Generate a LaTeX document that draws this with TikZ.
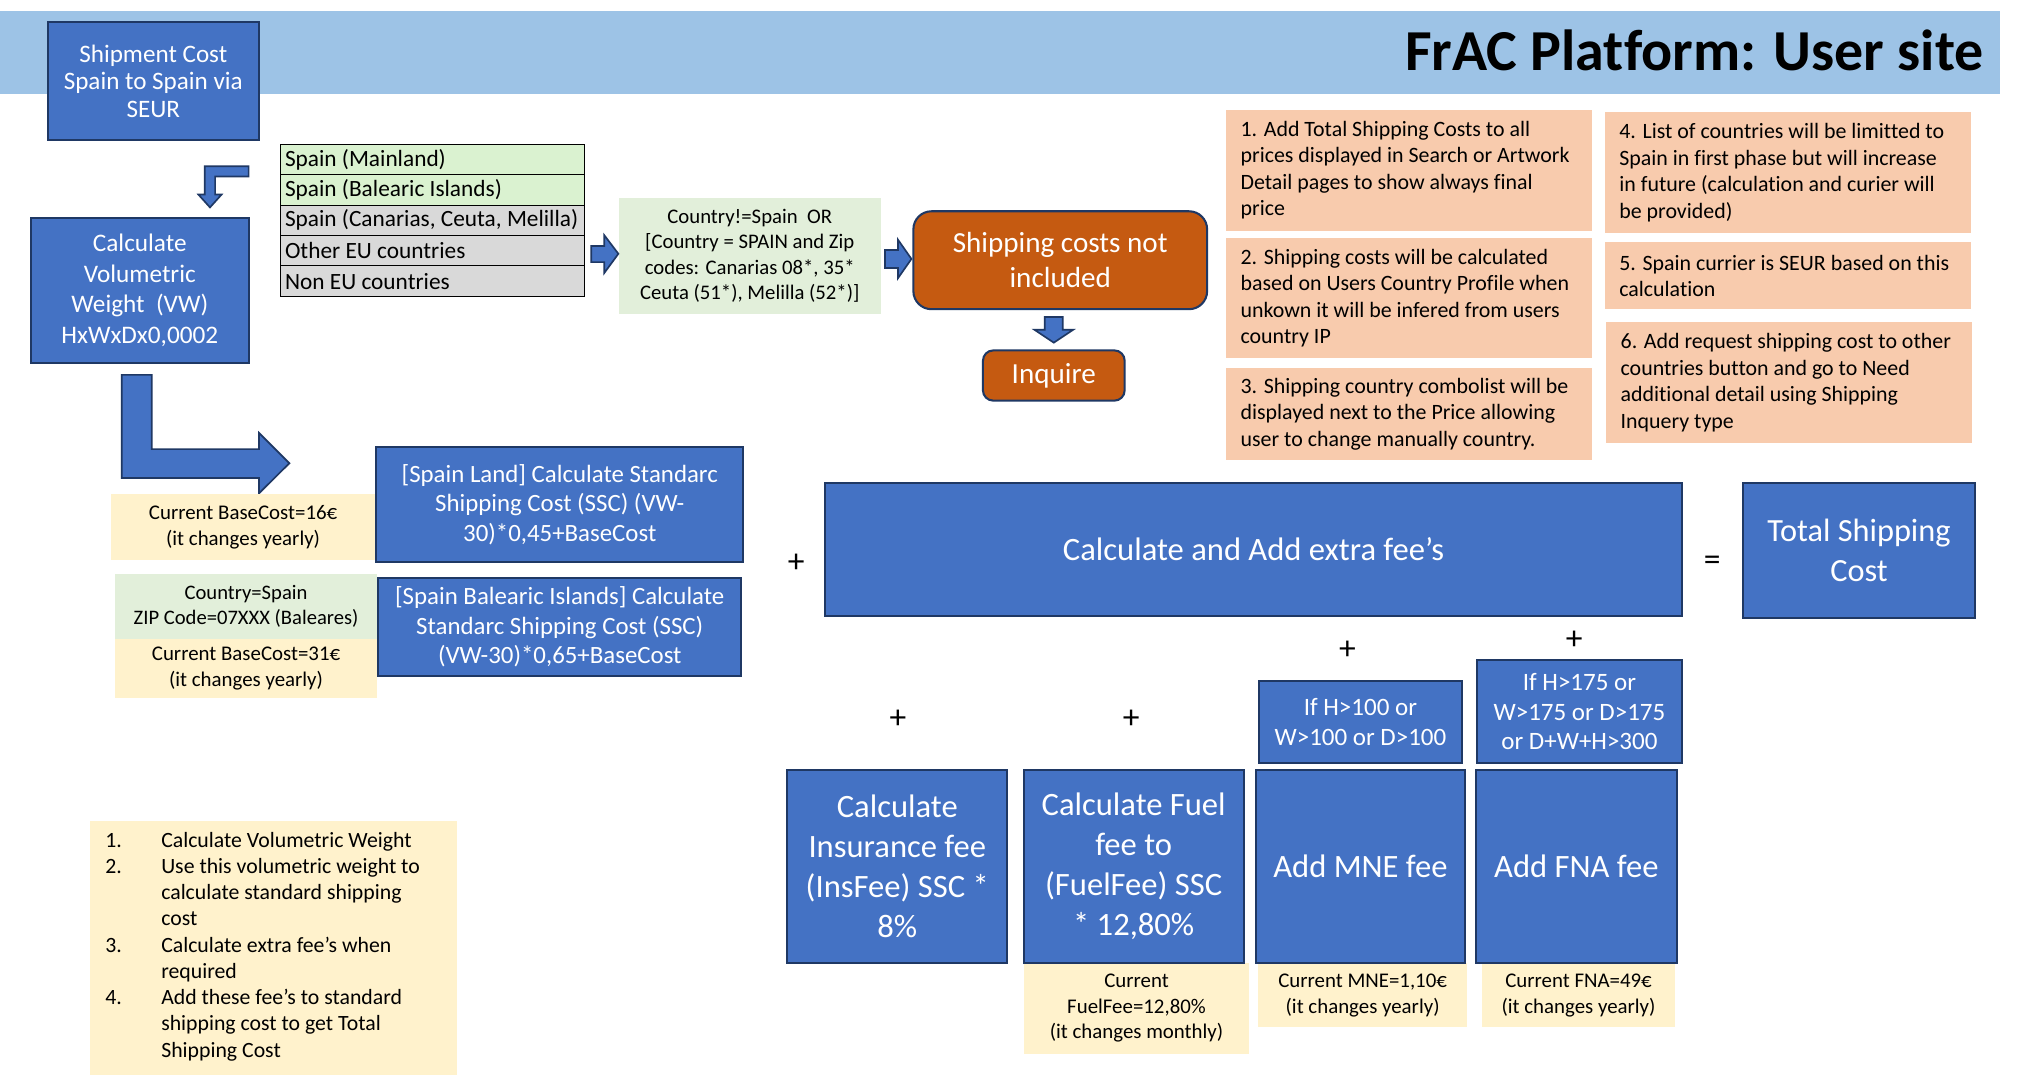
\documentclass[tikz,border=0pt]{standalone}
\usepackage{fontspec}
\setmainfont{Carlito}[Ligatures=NoCommon]
\newcommand\setfs[2]{\fontsize{#1}{#2}\selectfont}
\definecolor{bluefill}{HTML}{4472C4}
\definecolor{blueedge}{HTML}{1F3864}
\definecolor{bannerblue}{HTML}{9DC3E6}
\definecolor{peach}{HTML}{F8CBAD}
\definecolor{cream}{HTML}{FFF2CC}
\definecolor{mint}{HTML}{E2EFDA}
\definecolor{rowgreen}{HTML}{DAF2D0}
\definecolor{rowgrey}{HTML}{D9D9D9}
\definecolor{rust}{HTML}{C55A11}
\begin{document}
\begin{tikzpicture}[x=1pt,y=-1pt,
  bluebox/.style={draw=blueedge, line width=1.6pt, fill=bluefill, text=white, align=center, inner sep=0pt},
  rustbox/.style={draw=blueedge, line width=1.6pt, fill=rust, text=white, align=center, inner sep=0pt},
  infobox/.style={inner sep=0pt, align=center, font=\setfs{16.2}{20}},
  notebox/.style={fill=peach, inner sep=0pt, minimum width=284pt},
  notetxt/.style={anchor=west, inner sep=0pt, align=left, font=\setfs{17}{20.5}},
  tablerow/.style={draw=black, line width=0.8pt, minimum width=235.5pt, minimum height=23.6pt, inner sep=0pt, font=\setfs{18.1}{20}},
  blockarrow/.style={fill=bluefill, draw=blueedge, line width=1.3pt, line join=miter},
  sign/.style={inner sep=0pt, font=\setfs{26}{30}}
]
\useasboundingbox (0,0) rectangle (1568,837);
\fill[white] (0,0) rectangle (1568,837);

% header band and title
\node[fill=bannerblue, inner sep=0pt, minimum width=1552pt, minimum height=65pt, anchor=north west] (band) at (0,8) {};
\node[inner sep=0pt, anchor=base east, font=\bfseries\setfs{45}{54}] (title) at (1540,54.4) {FrAC Platform: User site};

% left column
\node[bluebox, minimum width=164pt, minimum height=92pt, font=\setfs{19.5}{21.5}] (ship) at (119,63) {Shipment Cost\\Spain to Spain via\\SEUR};
\node[bluebox, minimum width=169pt, minimum height=113pt, font=\setfs{19.6}{23.7}] (vw) at (108.5,225.5) {Calculate\\Volumetric\\Weight~ (VW)\\HxWxDx0,0002};

% bent arrow from shipment box to volumetric weight
\draw[blockarrow] (193,129) -- (159,129) -- (159,151) -- (154,151) -- (163,161) -- (172,151) -- (167,151) -- (167,137) -- (193,137) -- cycle;

% destination table
\node[tablerow, fill=rowgreen] (r1) at (335.75,123.8) {\makebox[229pt][l]{Spain (Mainland)}};
\node[tablerow, fill=rowgreen] (r2) at (335.75,147.4) {\makebox[229pt][l]{Spain (Balearic Islands)}};
\node[tablerow, fill=rowgrey] (r3) at (335.75,171) {\makebox[229pt][l]{Spain (Canarias, Ceuta, Melilla)}};
\node[tablerow, fill=rowgrey] (r4) at (335.75,194.6) {\makebox[229pt][l]{Other EU countries}};
\node[tablerow, fill=rowgrey] (r5) at (335.75,218.2) {\makebox[229pt][l]{Non EU countries}};

% excluded destinations
\node[fill=mint, inner sep=0pt, align=center, minimum width=203pt, minimum height=90pt, font=\setfs{16.1}{19.7}] (cond) at (582,198.5) {Country!=Spain~ OR\\{[}Country = SPAIN and Zip\\codes: Canarias 08*, 35*\\Ceuta (51*), Melilla (52*){]}};
\node[rustbox, rounded corners=14pt, minimum width=228pt, minimum height=76pt, font=\setfs{22.6}{27}] (nocost) at (823,202) {Shipping costs not\\included};
\node[rustbox, rounded corners=8pt, minimum width=110pt, minimum height=39pt, font=\setfs{22.6}{27}] (inquire) at (818,291.5) {Inquire};

\draw[blockarrow] (459,191) -- (469,191) -- (469,182.5) -- (480,197) -- (469,212) -- (469,203.5) -- (459,203.5) -- cycle;
\draw[blockarrow] (687,194) -- (697,194) -- (697,186) -- (707.5,201) -- (697,216) -- (697,208) -- (687,208) -- cycle;
\draw[blockarrow] (811,246) -- (825,246) -- (825,256) -- (833,256) -- (818,266) -- (803,256) -- (811,256) -- cycle;

% requirement notes
\node[notebox, minimum height=93.6pt] (n1) at (1094,132.2) {};
\node[notetxt] (n1t) at ([xshift=11pt]n1.west) {1. Add Total Shipping Costs to all\\prices displayed in Search or Artwork\\Detail pages to show always final\\price};
\node[notebox, minimum height=93pt] (n2) at (1094,231.5) {};
\node[notetxt] (n2t) at ([xshift=11pt]n2.west) {2. Shipping costs will be calculated\\based on Users Country Profile when\\unkown it will be infered from users\\country IP};
\node[notebox, minimum height=71pt] (n3) at (1094,321.5) {};
\node[notetxt] (n3t) at ([xshift=11pt]n3.west) {3. Shipping country combolist will be\\displayed next to the Price allowing\\user to change manually country.};
\node[notebox, minimum height=94pt] (n4) at (1388,134) {};
\node[notetxt] (n4t) at ([xshift=11pt]n4.west) {4. List of countries will be limitted to\\Spain in first phase but will increase\\in future (calculation and curier will\\be provided)};
\node[notebox, minimum height=52pt] (n5) at (1388,214) {};
\node[notetxt] (n5t) at ([xshift=11pt]n5.west) {5. Spain currier is SEUR based on this\\calculation};
\node[notebox, minimum height=94pt] (n6) at (1389,297) {};
\node[notetxt] (n6t) at ([xshift=11pt]n6.west) {6. Add request shipping cost to other\\countries button and go to Need\\additional detail using Shipping\\Inquery type};

% L-shaped arrow towards the standard shipping cost
\draw[blockarrow] (94.5,291) -- (117.8,291) -- (117.8,348.6) -- (201,348.6) -- (201,336) -- (224.6,359.6) -- (201,383) -- (201,371) -- (94.5,371) -- cycle;

% standard shipping cost
\node[infobox, fill=cream, minimum width=204.5pt, minimum height=51.3pt] (base1) at (188.7,409.2) {Current BaseCost=16€\\(it changes yearly)};
\node[bluebox, minimum width=285pt, minimum height=89.7pt, font=\setfs{19.3}{23}] (land) at (434.5,391.6) {[Spain Land] Calculate Standarc\\Shipping Cost (SSC) (VW-\\30)*0,45+BaseCost};
\node[infobox, fill=mint, minimum width=204pt, minimum height=50.5pt, font=\setfs{16}{19.5}] (cs) at (191,471) {Country=Spain\\ZIP Code=07XXX (Baleares)};
\node[infobox, fill=cream, minimum width=204pt, minimum height=45.4pt] (base2) at (191,519) {Current BaseCost=31€\\(it changes yearly)};
\node[bluebox, minimum width=282pt, minimum height=76.3pt, font=\setfs{19.3}{23}] (bal) at (434.5,486.7) {[Spain Balearic Islands] Calculate\\Standarc Shipping Cost (SSC)\\(VW-30)*0,65+BaseCost};

% extra fees and total
\node[sign] (plusA) at (618,437) {+};
\node[bluebox, minimum width=665pt, minimum height=103.6pt, font=\setfs{25.3}{31}] (extra) at (973,426.5) {Calculate and Add extra fee’s};
\node[sign] (eq) at (1329,437) {=};
\node[bluebox, minimum width=180pt, minimum height=105pt, font=\setfs{25.1}{31}] (total) at (1443,427.5) {Total Shipping\\Cost};

\node[sign] (plusB) at (1046,505) {+};
\node[sign] (plusC) at (1222,497) {+};
\node[sign] (plusD) at (697,558) {+};
\node[sign] (plusE) at (878,558) {+};

\node[bluebox, minimum width=158pt, minimum height=64pt, font=\setfs{19.4}{23}] (ifmne) at (1056,560.5) {If H>100 or\\W>100 or D>100};
\node[bluebox, minimum width=158.5pt, minimum height=80pt, font=\setfs{19.4}{23}] (iffna) at (1226,552.5) {If H>175 or\\W>175 or D>175\\or D+W+H>300};

\node[infobox, fill=cream, minimum width=175pt, minimum height=70.4pt] (fuelnote) at (882.2,782.6) {Current\\FuelFee=12,80\%\\(it changes monthly)};
\node[infobox, fill=cream, minimum width=162pt, minimum height=50pt] (mnenote) at (1057.7,772.5) {Current MNE=1,10€\\(it changes yearly)};
\node[infobox, fill=cream, minimum width=149.4pt, minimum height=50pt] (fnanote) at (1225.3,772.5) {Current FNA=49€\\(it changes yearly)};

\node[bluebox, minimum width=171pt, minimum height=150pt, font=\setfs{25.3}{31}] (ins) at (696.5,672.5) {Calculate\\Insurance fee\\(InsFee) SSC *\\8\%};
\node[bluebox, minimum width=171pt, minimum height=150pt, font=\setfs{25.3}{31}] (fuel) at (880,672.5) {Calculate Fuel\\fee to\\(FuelFee) SSC\\* 12,80\%};
\node[bluebox, minimum width=162.4pt, minimum height=150pt, font=\setfs{25.3}{31}] (mne) at (1056,672.5) {Add MNE fee};
\node[bluebox, minimum width=156pt, minimum height=150pt, font=\setfs{25.3}{31}] (fna) at (1223.6,672.5) {Add FNA fee};

% summary of the steps
\node[fill=cream, inner sep=0pt, minimum width=284.6pt, minimum height=197.2pt] (steps) at (212.3,736) {};
\node[inner sep=0pt, anchor=west, font=\setfs{16.9}{20.4}] (stepst) at (81.5,735) {\begin{tabular}{@{}p{43.5pt}@{}l@{}}1.&Calculate Volumetric Weight\\2.&Use this volumetric weight to\\&calculate standard shipping\\&cost\\3.&Calculate extra fee’s when\\&required\\4.&Add these fee’s to standard\\&shipping cost to get Total\\&Shipping Cost\end{tabular}};
\end{tikzpicture}
\end{document}
